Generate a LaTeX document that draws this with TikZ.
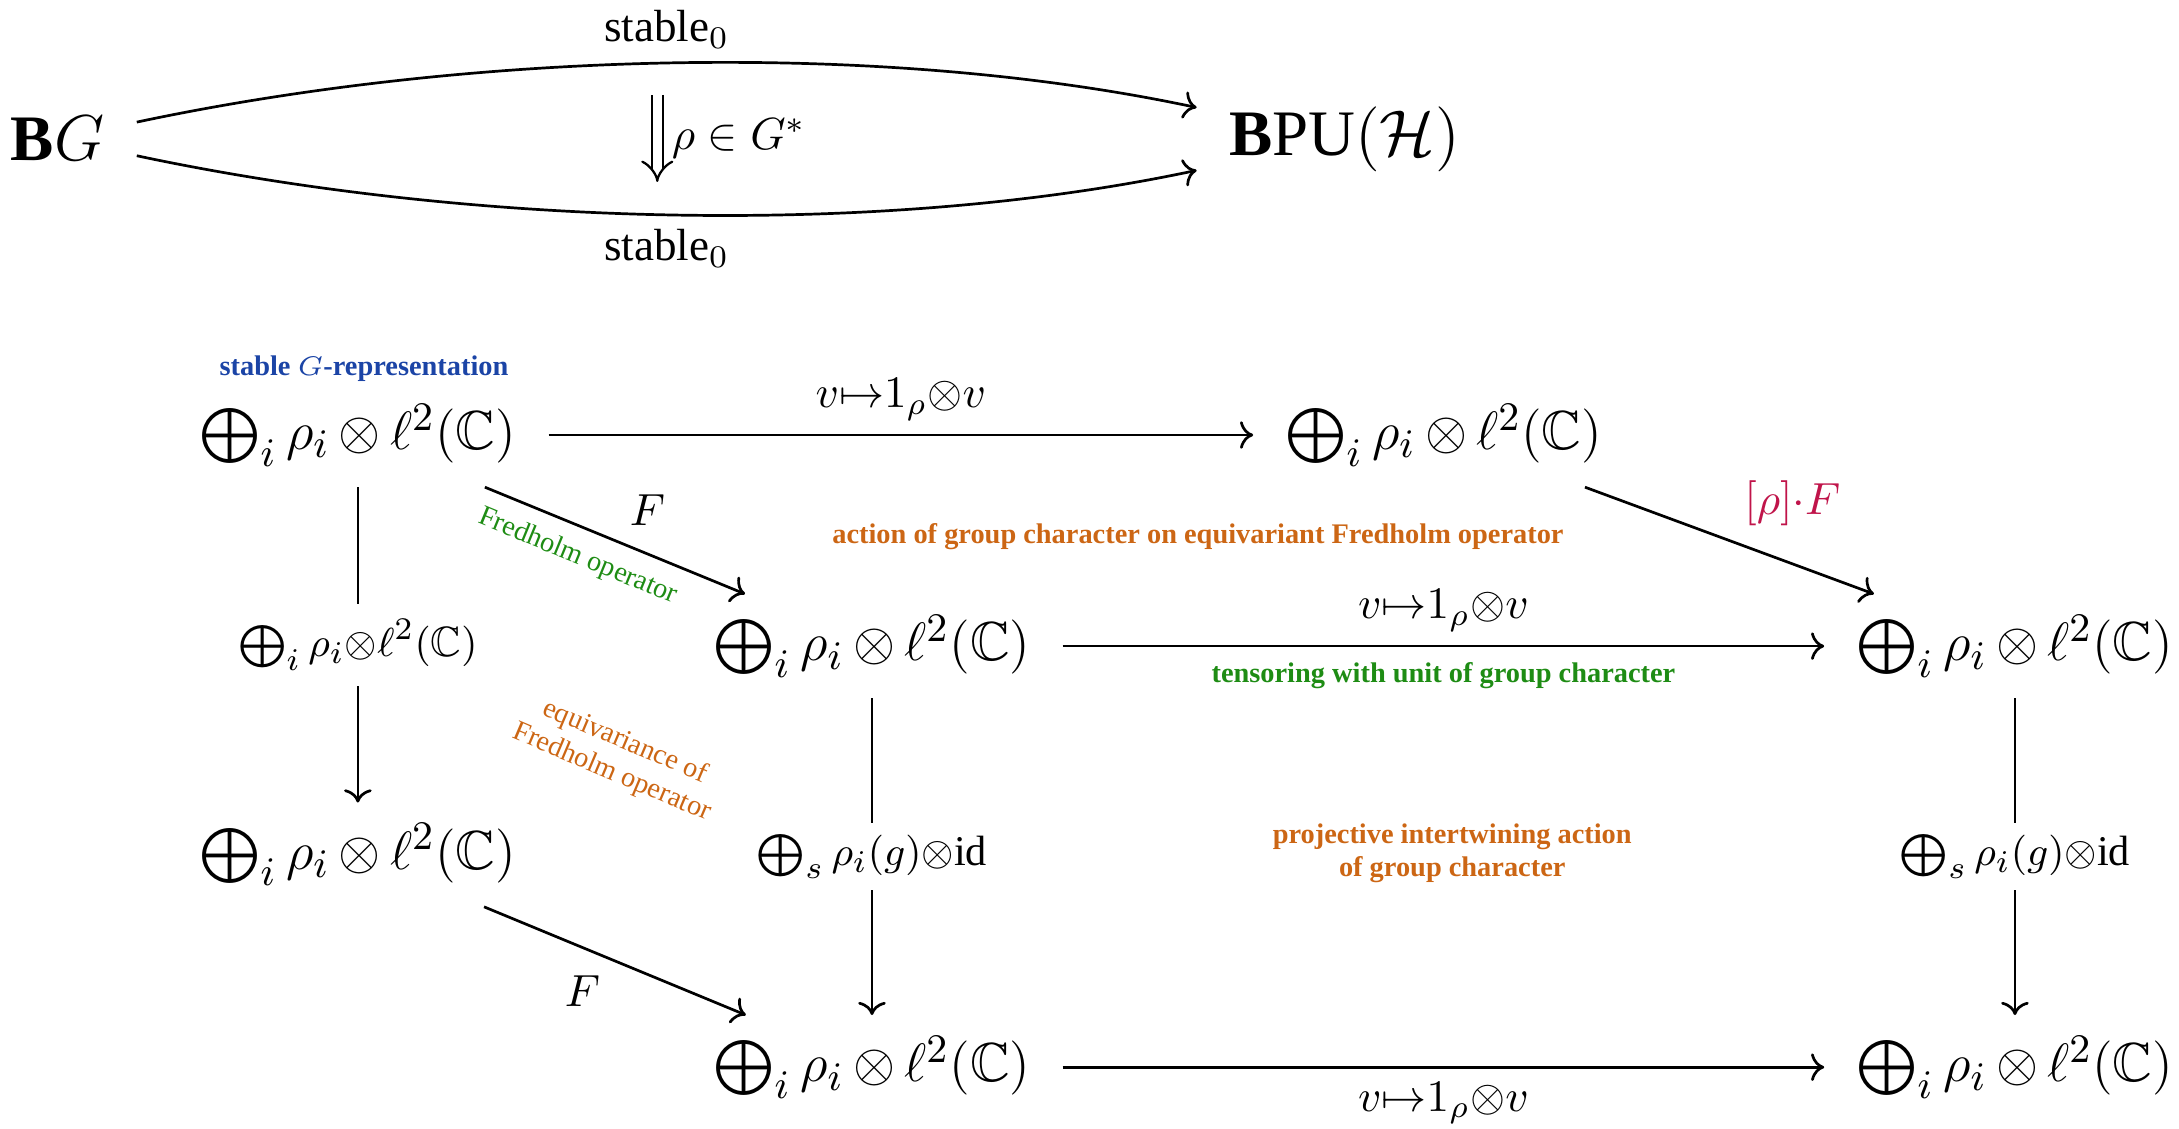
\documentclass[tikz,border=0pt]{standalone}
\usepackage{amsmath}
\usepackage{amssymb}
\usepackage{fontspec}
\setmainfont{Liberation Serif}
\usepackage{tikz}
\usetikzlibrary{arrows.meta,positioning}
\usepackage{xcolor}
\definecolor{repcolor}{HTML}{1B44A6}
\definecolor{fredcolor}{HTML}{1E8C14}
\definecolor{actcolor}{HTML}{CC6614}
\definecolor{charcolor}{HTML}{C0144A}
\newcommand{\repsum}{\bigoplus_i \rho_i \mathbin{\mkern-1mu\otimes\mkern-1mu} \ell^2(\mathbb{C})}
\newcommand{\smallrepsum}{\bigoplus_i \rho_i{\otimes}\ell^2(\mathbb{C})}
\newcommand{\charmap}{v{\mapsto}1_\rho{\otimes}v}
\newcommand{\intertw}{\bigoplus_s \rho_i(g){\otimes}\mathrm{id}}
\newcommand{\notesize}{\fontsize{6.3}{7.4}\selectfont}

\begin{document}
\begin{tikzpicture}[
  obj/.style={font=\fontsize{12.2}{15}\selectfont,inner xsep=7pt,inner ysep=4.5pt},
  lbl/.style={font=\normalsize,inner sep=3pt},
  sublbl/.style={font=\fontsize{9.4}{11}\selectfont,fill=white,inner sep=2.5pt},
  note/.style={font=\notesize\bfseries,text=actcolor,align=center},
  arr/.style={->,line width=0.6pt},
  twocell/.style={double,double distance=2pt,line width=0.5pt,-{Implies}}
]
  \useasboundingbox (0,0) rectangle (17,-8.803);

  \node[obj,font=\Large] (bg) at (0.45,-1.084) {$\mathbf{B}G$};
  \node[obj,font=\Large] (bpu) at (10.49,-1.084) {$\mathbf{B}\mathrm{PU}(\mathcal{H})$};
  \draw[arr] (bg) to[out=12,in=168,looseness=0.8]
    node[lbl,midway,above] {stable$_0$} (bpu);
  \draw[arr] (bg) to[out=-12,in=192,looseness=0.8]
    node[lbl,midway,below] {stable$_0$} (bpu);
  \coordinate (tw1) at (5.128,-0.74);
  \coordinate (tw2) at (5.128,-1.42);
  \draw[twocell] (tw1) -- node[lbl,right] {$\rho\in G^*$} (tw2);

  \node[note,text=repcolor] (stab) at (2.84,-2.873) {stable $G$-representation};
  \node[obj] (n1) at (2.792,-3.394) {$\repsum$};
  \node[obj] (n2) at (11.265,-3.394) {$\repsum$};
  \node[obj] (n3) at (6.803,-5.041) {$\repsum$};
  \node[obj] (n4) at (15.72,-5.041) {$\repsum$};
  \node[obj] (n5) at (2.792,-6.668) {$\repsum$};
  \node[obj] (n6) at (6.803,-8.326) {$\repsum$};
  \node[obj] (n7) at (15.72,-8.326) {$\repsum$};

  \draw[arr] (n1) -- node[lbl,above] {$\charmap$} (n2);
  \draw[arr] (n3) -- node[lbl,above] {$\charmap$}
    node[note,text=fredcolor,below] {tensoring with unit of group character} (n4);
  \draw[arr] (n6) -- node[lbl,below] {$\charmap$} (n7);

  \draw[arr] (n1) -- node[sublbl,inner sep=3.5pt] {$\smallrepsum$} (n5);
  \draw[arr] (n3) -- node[sublbl] {$\intertw$} (n6);
  \draw[arr] (n4) -- node[sublbl] {$\intertw$} (n7);

  \draw[arr] (n1) -- node[lbl,above right] {$F$}
    node[pos=0.4,sloped,below,font=\notesize,text=fredcolor] {Fredholm operator} (n3);
  \draw[arr] (n5) -- node[lbl,below left] {$F$} (n6);
  \draw[arr] (n2) -- node[lbl,above right,text=charcolor] {$[\rho]{\cdot}F$} (n4);

  \node[note] (act) at (9.346,-4.185) {action of group character on equivariant Fredholm operator};
  \node[note,font=\notesize,rotate=-23] (equiv) at (4.825,-5.909) {equivariance of\\Fredholm operator};
  \node[note] (proj) at (11.33,-6.657) {projective intertwining action\\of group character};
\end{tikzpicture}
\end{document}
